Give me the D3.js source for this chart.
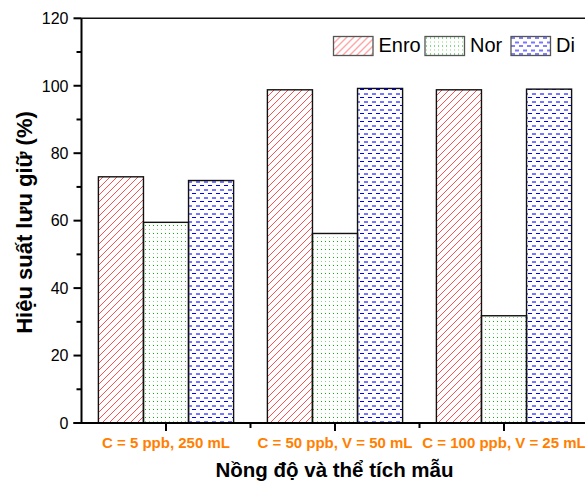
<!DOCTYPE html>
<html>
<head>
<meta charset="utf-8">
<script src="https://cdn.jsdelivr.net/npm/d3@7"></script>
<style>
  html, body { margin: 0; padding: 0; background: #fff; }
  svg { display: block; font-family: "Liberation Sans", Arial, sans-serif; }
</style>
</head>
<body>
<svg id="chart" width="585" height="481"></svg>
<script>
// Retention efficiency (%) for three sample conditions
const categories = ["C = 5 ppb, 250 mL", "C = 50 ppb, V = 50 mL", "C = 100 ppb, V = 25 mL"];
const seriesNames = ["Enro", "Nor", "Di"];
const enro = [73.0, 98.8, 98.8];
const nor = [59.5, 56.2, 31.8];
const di = [71.9, 99.2, 99.0];
const yTicks = [0, 20, 40, 60, 80, 100, 120];
const yMinorTicks = [10, 30, 50, 70, 90, 110];
const yTitle = "Hiệu suất lưu giữ (%)";
const xTitle = "Nồng độ và thể tích mẫu";

const values = [enro, nor, di];
const svg = d3.select("#chart");

const margin = { left: 81.5, right: 588.5, top: 18.3, bottom: 423 };

const x = d3.scaleBand().domain(categories)
  .range([margin.left, margin.right])
  .paddingInner(0.2).paddingOuter(0.1);
const xs = d3.scaleBand().domain(seriesNames).range([0, x.bandwidth()]);
const y = d3.scaleLinear().domain([0, 120]).range([margin.bottom, margin.top]);

// Fill patterns
const defs = svg.append("defs");
const pHatch = defs.append("pattern").attr("id", "p-enro")
  .attr("patternUnits", "userSpaceOnUse").attr("width", 7).attr("height", 7);
pHatch.append("path")
  .attr("d", "M-1,1 L1,-1 M0,7 L7,0 M6,8 L8,6")
  .attr("stroke", "#ff3b3b").attr("stroke-width", 0.9).attr("fill", "none");

// green dot grid, alternating darker and lighter rows
const pDots = defs.append("pattern").attr("id", "p-nor")
  .attr("patternUnits", "userSpaceOnUse").attr("width", 4).attr("height", 8);
pDots.append("rect").attr("x", 1).attr("y", 1).attr("width", 1).attr("height", 1)
  .attr("fill", "#00b400").attr("shape-rendering", "crispEdges");
pDots.append("rect").attr("x", 1).attr("y", 5).attr("width", 1).attr("height", 1)
  .attr("fill", "#80d880").attr("shape-rendering", "crispEdges");

// blue dashes, alternating darker and lighter rows
const pDash = defs.append("pattern").attr("id", "p-di")
  .attr("patternUnits", "userSpaceOnUse").attr("width", 8).attr("height", 8);
pDash.append("rect").attr("x", 0).attr("y", 1).attr("width", 4).attr("height", 1)
  .attr("fill", "#0000ff").attr("shape-rendering", "crispEdges");
pDash.append("rect").attr("x", 4).attr("y", 5).attr("width", 4).attr("height", 2)
  .attr("fill", "#7878ff").attr("shape-rendering", "crispEdges");

const fills = { Enro: "url(#p-enro)", Nor: "url(#p-nor)", Di: "url(#p-di)" };

// Bars
const rows = [];
categories.forEach((c, i) => {
  seriesNames.forEach((s, j) => rows.push({ cat: c, series: s, value: values[j][i] }));
});

svg.append("g").selectAll("rect").data(rows).join("rect")
  .attr("x", d => x(d.cat) + xs(d.series))
  .attr("y", d => y(d.value))
  .attr("width", xs.bandwidth())
  .attr("height", d => y(0) - y(d.value))
  .attr("fill", d => fills[d.series])
  .attr("stroke", "#111")
  .attr("stroke-width", 1.4);

// Top frame line
svg.append("line")
  .attr("x1", margin.left).attr("x2", 585)
  .attr("y1", margin.top).attr("y2", margin.top)
  .attr("stroke", "#111").attr("stroke-width", 1.6);

// Y axis
const yAxis = svg.append("g").attr("transform", `translate(${margin.left},0)`);
yAxis.append("line")
  .attr("x1", 0).attr("x2", 0).attr("y1", margin.top).attr("y2", margin.bottom)
  .attr("stroke", "#000").attr("stroke-width", 2);
yAxis.selectAll(".maj").data(yTicks).join("line")
  .attr("x1", -8).attr("x2", 0).attr("y1", d => y(d)).attr("y2", d => y(d))
  .attr("stroke", "#000").attr("stroke-width", 2);
yAxis.selectAll(".min").data(yMinorTicks).join("line")
  .attr("class", "min")
  .attr("x1", -5).attr("x2", 0).attr("y1", d => y(d)).attr("y2", d => y(d))
  .attr("stroke", "#000").attr("stroke-width", 2);
yAxis.selectAll("text").data(yTicks).join("text")
  .attr("x", -13).attr("y", d => y(d)).attr("dy", "0.36em")
  .attr("text-anchor", "end")
  .attr("font-size", 16).attr("fill", "#000")
  .text(d => d);

// X axis
const xAxis = svg.append("g");
xAxis.append("line")
  .attr("x1", margin.left - 8).attr("x2", 585).attr("y1", margin.bottom).attr("y2", margin.bottom)
  .attr("stroke", "#000").attr("stroke-width", 2);
xAxis.selectAll(".maj").data(categories).join("line")
  .attr("x1", d => x(d) + x.bandwidth() / 2).attr("x2", d => x(d) + x.bandwidth() / 2)
  .attr("y1", margin.bottom).attr("y2", margin.bottom + 8)
  .attr("stroke", "#000").attr("stroke-width", 2);
xAxis.selectAll(".min").data(categories.slice(1)).join("line")
  .attr("class", "min")
  .attr("x1", d => x(d) - x.step() * x.paddingInner() / 2)
  .attr("x2", d => x(d) - x.step() * x.paddingInner() / 2)
  .attr("y1", margin.bottom).attr("y2", margin.bottom + 5)
  .attr("stroke", "#000").attr("stroke-width", 2);
xAxis.selectAll("text").data(categories).join("text")
  .attr("x", d => x(d) + x.bandwidth() / 2)
  .attr("y", 447.5)
  .attr("text-anchor", "middle")
  .attr("font-size", 15).attr("font-weight", "bold")
  .attr("fill", "#ff8000")
  .text(d => d);

// Axis titles
svg.append("text")
  .attr("x", 334.5).attr("y", 476.7)
  .attr("text-anchor", "middle")
  .attr("font-size", 20.5).attr("font-weight", "bold").attr("fill", "#000")
  .text(xTitle);
svg.append("text")
  .attr("transform", "translate(31.5,222.5) rotate(-90)")
  .attr("text-anchor", "middle")
  .attr("font-size", 22).attr("font-weight", "bold").attr("fill", "#000")
  .text(yTitle);

// Legend
const legendX = [333.5, 425, 511];
const legend = svg.append("g").selectAll("g").data(seriesNames).join("g")
  .attr("transform", (d, i) => `translate(${legendX[i]},36.5)`);
legend.append("rect")
  .attr("width", 39.5).attr("height", 19)
  .attr("fill", d => fills[d])
  .attr("stroke", "#555").attr("stroke-width", 1.3);
legend.append("text")
  .attr("x", 45).attr("y", 15.5)
  .attr("font-size", 20).attr("fill", "#000")
  .text(d => d);
</script>
</body>
</html>
